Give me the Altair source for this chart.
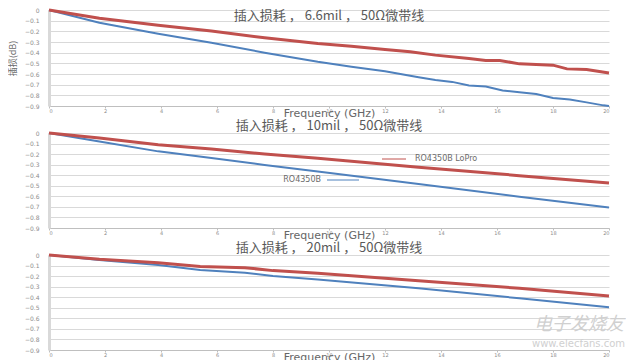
import altair as alt
import pandas as pd

SERIES = ["RO4350B", "RO4350B LoPro"]
COLORS = ["#4f81bd", "#c0504d"]
X_TICKS = [0, 2, 4, 6, 8, 10, 12, 14, 16, 18, 20]
Y_TICKS = [0, -0.1, -0.2, -0.3, -0.4, -0.5, -0.6, -0.7, -0.8, -0.9]
TITLES = ["插入损耗 ，  6.6mil ，  50Ω微带线",
          "插入损耗 ，  10mil ，  50Ω微带线",
          "插入损耗 ，  20mil ，  50Ω微带线"]
Y_TITLE = "插损(dB)"
X_TITLE = "Frequency (GHz)"
WATERMARK = ["电子发烧友", "www.elecfans.com"]

# 6.6 mil
f66_std = [0, 1.8, 3.9, 5.8, 7.7, 9.6, 10.8, 12.0, 13.2, 13.8, 14.4, 15.0, 15.6, 16.2, 16.8, 17.4, 18.0, 18.6, 19.2, 19.8, 20.0]
v66_std = [0, -0.119, -0.223, -0.307, -0.40, -0.486, -0.533, -0.574, -0.63, -0.656, -0.674, -0.708, -0.717, -0.755, -0.771, -0.787, -0.825, -0.84, -0.866, -0.894, -0.9]
f66_lp = [0, 1.8, 3.9, 5.8, 7.7, 9.6, 10.8, 12.0, 12.9, 13.8, 15.0, 15.6, 16.1, 16.8, 18.0, 18.5, 19.2, 20.0]
v66_lp = [0, -0.078, -0.144, -0.197, -0.26, -0.313, -0.339, -0.37, -0.392, -0.423, -0.455, -0.473, -0.473, -0.505, -0.517, -0.552, -0.558, -0.59]

# 10 mil
f10_std = [0, 1.8, 3.9, 5.8, 7.7, 9.6, 13.2, 16.8, 20.0]
v10_std = [0, -0.08, -0.174, -0.237, -0.303, -0.364, -0.483, -0.603, -0.705]
f10_lp = [0, 1.8, 3.9, 5.8, 7.7, 9.6, 13.2, 16.8, 20.0]
v10_lp = [0, -0.048, -0.111, -0.152, -0.2, -0.24, -0.325, -0.404, -0.473]

# 20 mil
f20_std = [0, 1.8, 3.9, 5.4, 7.0, 8.0, 9.6, 13.2, 16.8, 20.0]
v20_std = [0, -0.047, -0.095, -0.142, -0.168, -0.199, -0.231, -0.315, -0.41, -0.495]
f20_lp = [0, 1.8, 3.9, 5.4, 7.0, 8.0, 9.6, 13.2, 16.8, 20.0]
v20_lp = [0, -0.041, -0.073, -0.11, -0.12, -0.148, -0.174, -0.243, -0.315, -0.388]

W = 560


def lines_chart(f_std, v_std, f_lp, v_lp, ytitle, widths, height):
    df = pd.DataFrame({
        "f": f_std + f_lp,
        "v": v_std + v_lp,
        "s": [SERIES[0]] * len(f_std) + [SERIES[1]] * len(f_lp),
    })
    return alt.Chart(df).mark_line().encode(
        x=alt.X("f:Q", scale=alt.Scale(domain=[0, 20], nice=False),
                axis=alt.Axis(values=X_TICKS, grid=False, domainColor="#bfbfbf",
                              tickColor="#bfbfbf", tickSize=2, labelFontSize=5,
                              labelPadding=0, labelColor="#8c8c8c", labelFont="DejaVu Sans",
                              title=X_TITLE, titleFontSize=11, titleColor="#666666",
                              titleFont="DejaVu Sans", titleFontWeight="normal",
                              titlePadding=-6)),
        y=alt.Y("v:Q", scale=alt.Scale(domain=[-0.9, 0], nice=False),
                axis=alt.Axis(values=Y_TICKS,
                              labelExpr="datum.value == 0 ? '0' : format(datum.value, '.1f')",
                              title=ytitle, grid=True, gridColor="#d9d9d9",
                              domainColor="#d9d9d9", domainWidth=3, ticks=False,
                              labelPadding=10, labelFontSize=6, labelColor="#8c8c8c",
                              labelFont="DejaVu Sans",
                              titleFontSize=9, titleColor="#6b6b6b", titlePadding=7,
                              titleFont="Noto Sans CJK SC", titleFontWeight="normal")),
        color=alt.Color("s:N", scale=alt.Scale(domain=SERIES, range=COLORS), legend=None),
        strokeWidth=alt.StrokeWidth("s:N", scale=alt.Scale(domain=SERIES, range=widths), legend=None),
    ).properties(width=W, height=height)


def title_mark(text, y, baseline):
    return alt.Chart(pd.DataFrame({"t": [text]})).mark_text(
        align="center", baseline=baseline, fontSize=13, color="#595959",
        font="Noto Sans CJK SC").encode(text="t:N", x=alt.value(280), y=alt.value(y))


one = pd.DataFrame({"k": [0]})

p1_lines = lines_chart(f66_std, v66_std, f66_lp, v66_lp, Y_TITLE, [2, 3], 96)
p1 = alt.layer(p1_lines, title_mark(TITLES[0], 0, "top"))

p2_lines = lines_chart(f10_std, v10_std, f10_lp, v10_lp, "", [2, 2.5], 95)
leg_lp_rule = alt.Chart(one).mark_rule(color=COLORS[1], strokeWidth=1).encode(
    x=alt.value(333), x2=alt.value(357), y=alt.value(26))
leg_lp_text = alt.Chart(pd.DataFrame({"t": [SERIES[1]]})).mark_text(
    align="left", baseline="middle", fontSize=8, color="#6b6b6b", font="DejaVu Sans").encode(
    text="t:N", x=alt.value(366), y=alt.value(26))
leg_std_text = alt.Chart(pd.DataFrame({"t": [SERIES[0]]})).mark_text(
    align="right", baseline="middle", fontSize=8, color="#6b6b6b", font="DejaVu Sans").encode(
    text="t:N", x=alt.value(272), y=alt.value(47))
leg_std_rule = alt.Chart(one).mark_rule(color=COLORS[0], strokeWidth=1).encode(
    x=alt.value(278), x2=alt.value(310), y=alt.value(47))
p2 = alt.layer(p2_lines, leg_lp_rule, leg_lp_text, leg_std_text, leg_std_rule,
               title_mark(TITLES[1], -7, "middle"))

p3_lines = lines_chart(f20_std, v20_std, f20_lp, v20_lp, "", [1.5, 2], 95)
wm1 = alt.Chart(pd.DataFrame({"t": [WATERMARK[0]]})).mark_text(
    align="left", baseline="middle", fontSize=18, color="#d0d0d0", font="Noto Sans CJK SC",
    fontStyle="italic").encode(text="t:N", x=alt.value(485), y=alt.value(70))
wm2 = alt.Chart(pd.DataFrame({"t": [WATERMARK[1]]})).mark_text(
    align="left", baseline="middle", fontSize=10, color="#d0d0d0", font="DejaVu Sans").encode(
    text="t:N", x=alt.value(483), y=alt.value(89))
p3 = alt.layer(p3_lines, wm1, wm2, title_mark(TITLES[2], -7, "middle"))

chart = alt.vconcat(p1, p2, p3, spacing=27, bounds="flush").properties(
    padding={"left": 0, "top": -4, "right": 0, "bottom": 0},
    background="white",
).configure_view(stroke=None)

chart.save("out.html", embed_options={"renderer": "svg", "actions": False})
